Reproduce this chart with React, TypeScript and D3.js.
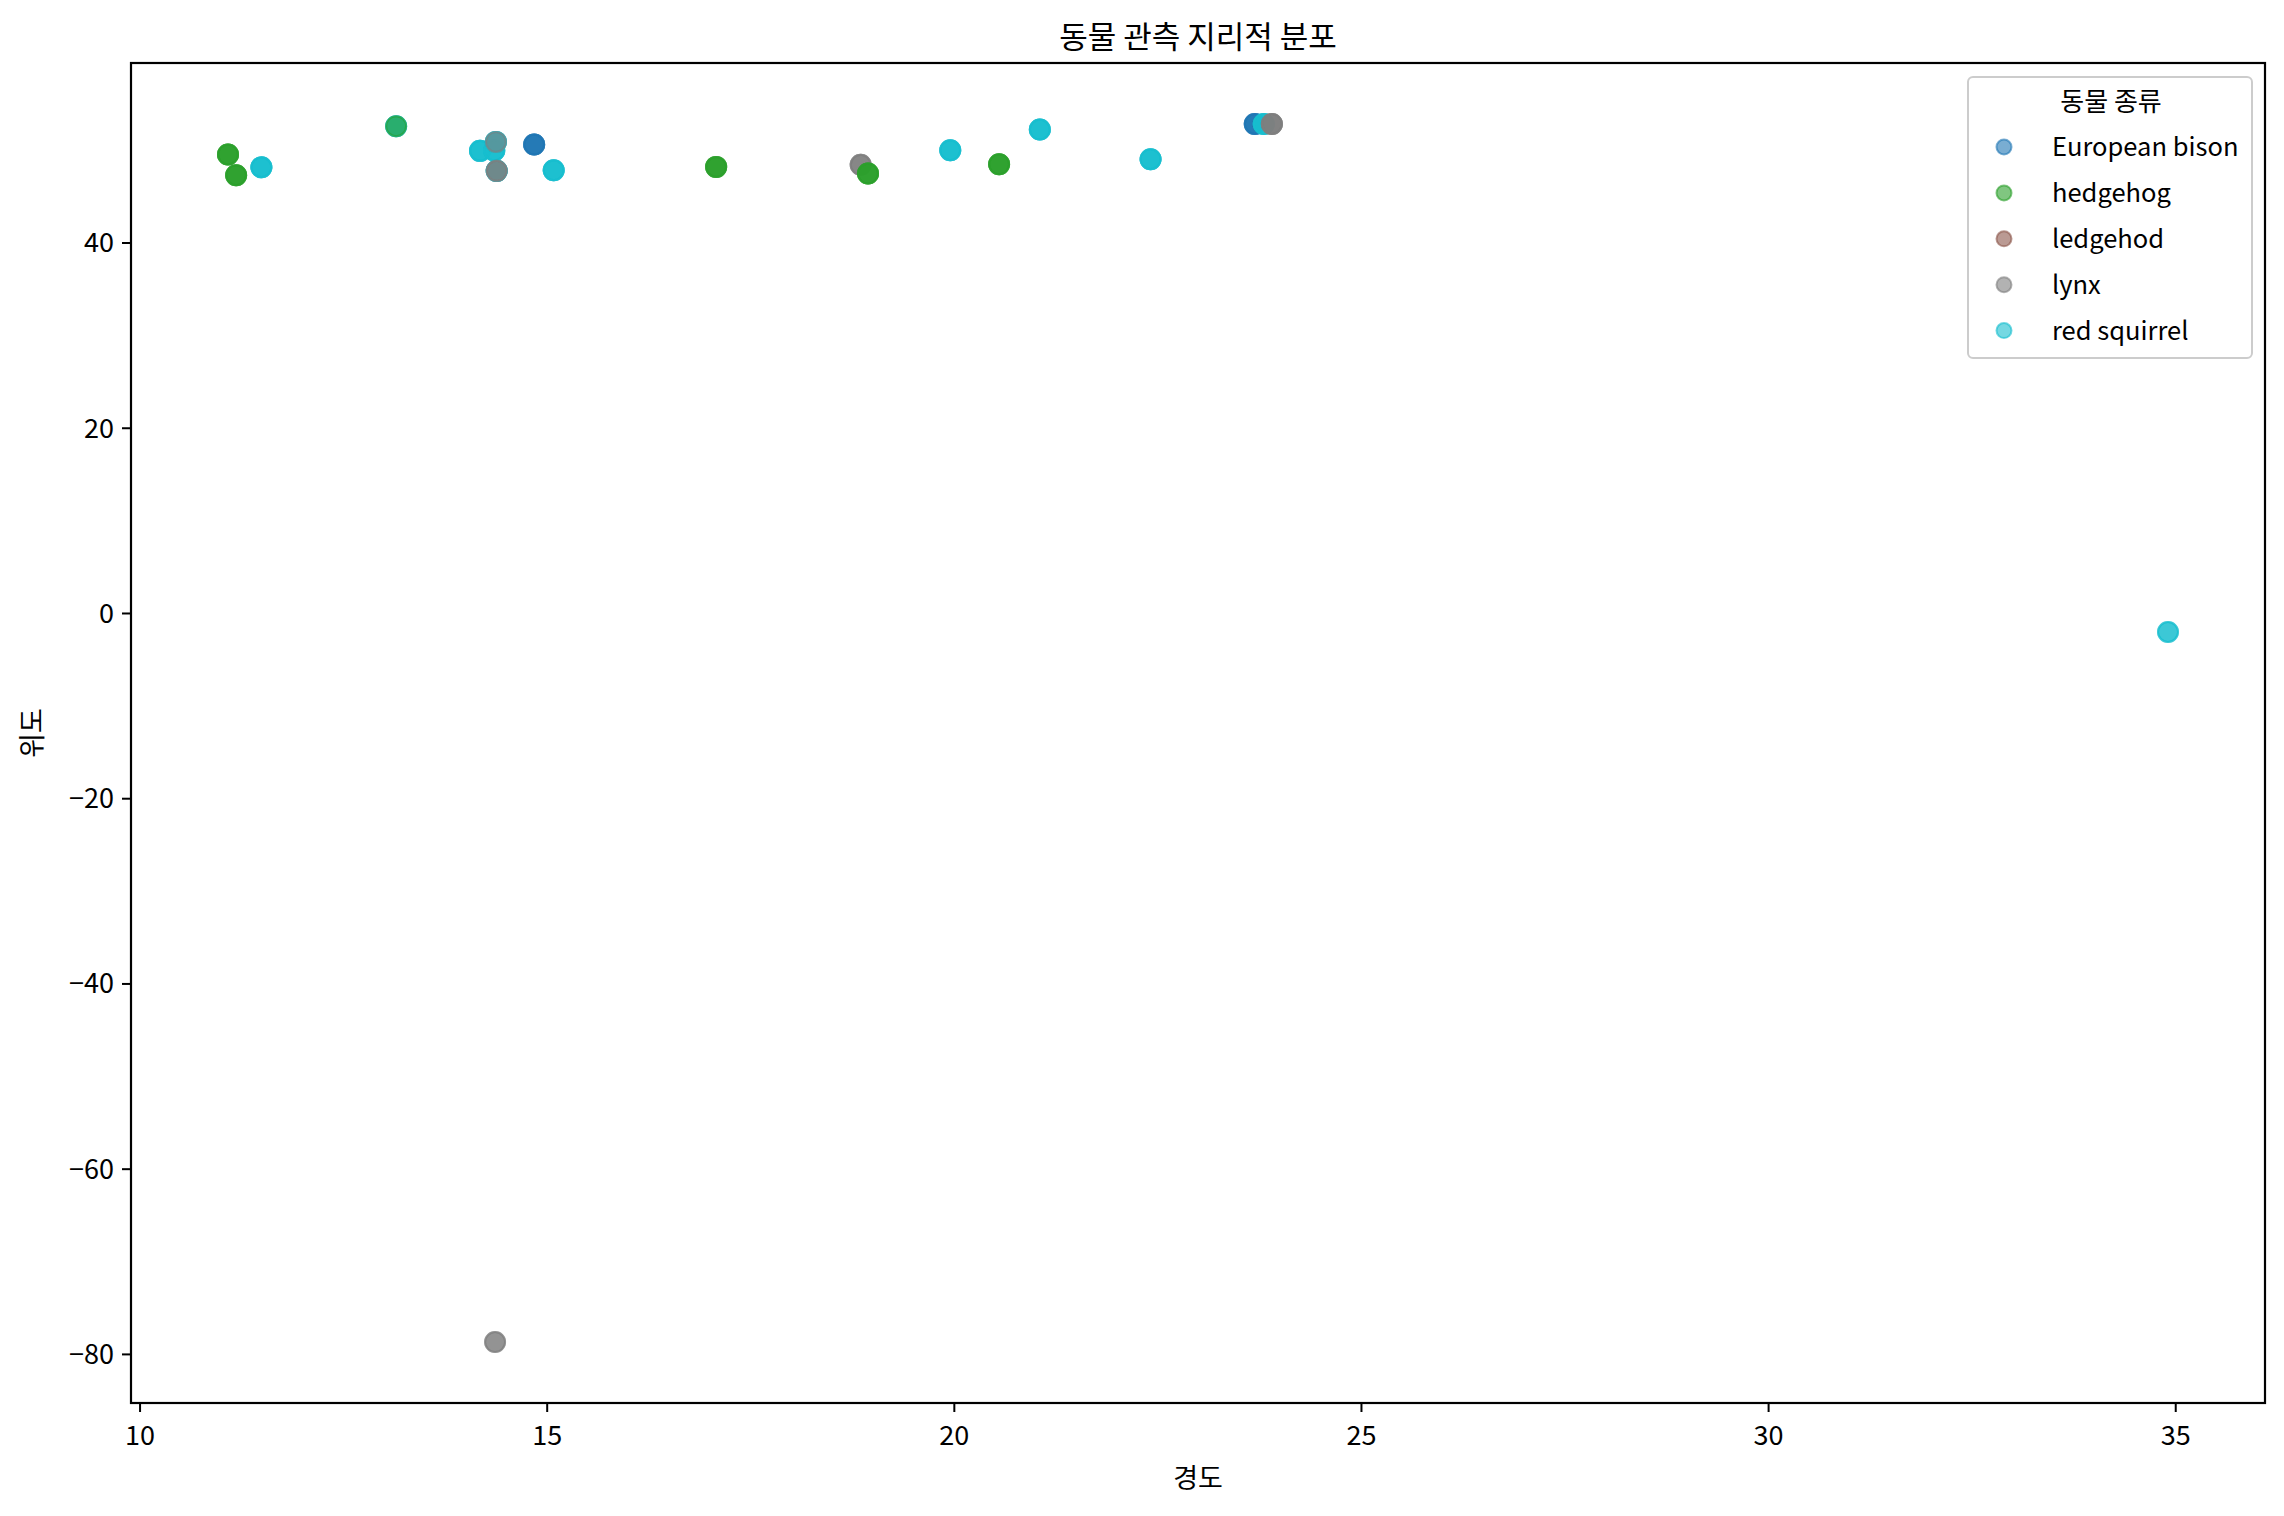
import React, { useMemo } from 'react';
import * as d3 from 'd3';

// species and their colours (tab10)
const species = ['European bison', 'hedgehog', 'ledgehod', 'lynx', 'red squirrel'];
const speciesColors = ['#1f77b4', '#2ca02c', '#8c564b', '#7f7f7f', '#17becf'];

// observations, in drawing order (count = number of stacked sightings at the spot)
const obsSpecies = [
  'hedgehog', 'hedgehog', 'red squirrel', 'red squirrel', 'hedgehog',
  'red squirrel', 'red squirrel', 'red squirrel', 'lynx', 'red squirrel',
  'lynx', 'European bison', 'red squirrel', 'hedgehog', 'lynx',
  'hedgehog', 'red squirrel', 'hedgehog', 'red squirrel', 'red squirrel',
  'European bison', 'red squirrel', 'lynx', 'lynx', 'red squirrel',
];
const obsLon = [
  11.08, 11.18, 11.49, 13.145, 13.145,
  14.175, 14.35, 14.37, 14.37, 14.38,
  14.38, 14.84, 15.08, 17.075, 18.85,
  18.94, 19.95, 20.55, 21.05, 22.41,
  23.69, 23.8, 23.9, 14.36, 34.905,
];
const obsLat = [
  49.56, 47.32, 48.18, 52.61, 52.61,
  49.95, 50.0, 50.92, 50.92, 47.79,
  47.79, 50.63, 47.86, 48.22, 48.44,
  47.5, 50.02, 48.5, 52.25, 49.05,
  52.86, 52.86, 52.86, -78.67, -2.0,
];
const obsCount = [
  4, 4, 4, 3, 1,
  4, 4, 4, 1, 4,
  2, 4, 4, 4, 3,
  4, 4, 4, 4, 4,
  4, 4, 4, 2, 2,
];

const xTicks = [10, 15, 20, 25, 30, 35];
const yTicks = [-80, -60, -40, -20, 0, 20, 40];

const title = '동물 관측 지리적 분포';
const xLabel = '경도';
const yLabel = '위도';
const legendTitle = '동물 종류';

const W = 2284;
const H = 1516;
const margin = { top: 63, right: 19, bottom: 113, left: 131 };
const FONT = '"Noto Sans CJK KR", "Noto Sans", sans-serif';

const App: React.FC = () => {
  const points = useMemo(() => {
    const out: { lon: number; lat: number; sp: string }[] = [];
    obsSpecies.forEach((sp, i) => {
      for (let k = 0; k < obsCount[i]; k++) out.push({ lon: obsLon[i], lat: obsLat[i], sp });
    });
    return out;
  }, []);

  const color = d3.scaleOrdinal<string, string>().domain(species).range(speciesColors);

  const [x0, x1] = d3.extent(obsLon) as [number, number];
  const [y0, y1] = d3.extent(obsLat) as [number, number];
  const px = (x1 - x0) * 0.05;
  const py = (y1 - y0) * 0.05;

  const x = d3.scaleLinear().domain([x0 - px, x1 + px]).range([margin.left, W - margin.right]);
  const y = d3.scaleLinear().domain([y0 - py, y1 + py]).range([H - margin.bottom, margin.top]);

  const left = margin.left;
  const right = W - margin.right;
  const top = margin.top;
  const bottom = H - margin.bottom;

  const fmt = (v: number) => (v < 0 ? '\u2212' + Math.abs(v) : String(v));

  // legend box
  const lg = { x: 1968, y: 77, w: 284, h: 281 };

  return (
    <div style={{ position: 'absolute', left: 0, top: 0, background: '#fff' }}>
      <svg width={W} height={H} style={{ display: 'block', fontFamily: FONT }}>
        <rect width={W} height={H} fill="#fff" />

        {/* points */}
        <g>
          {points.map((d, i) => (
            <circle
              key={i}
              cx={x(d.lon)}
              cy={y(d.lat)}
              r={10}
              fill={color(d.sp)}
              fillOpacity={0.6}
              stroke={color(d.sp)}
              strokeOpacity={0.6}
              strokeWidth={2}
            />
          ))}
        </g>

        {/* frame */}
        <rect x={left} y={top} width={right - left} height={bottom - top} fill="none" stroke="#000" strokeWidth={2.2} />

        {/* x axis */}
        <g>
          {xTicks.map(t => (
            <g key={t} transform={`translate(${x(t)},${bottom})`}>
              <line y1={0} y2={9} stroke="#000" strokeWidth={2} />
              <text y={42} textAnchor="middle" fontSize={27} fill="#000">{fmt(t)}</text>
            </g>
          ))}
        </g>

        {/* y axis */}
        <g>
          {yTicks.map(t => (
            <g key={t} transform={`translate(${left},${y(t)})`}>
              <line x1={0} x2={-9} stroke="#000" strokeWidth={2} />
              <text x={-17} dy="0.35em" textAnchor="end" fontSize={27} fill="#000">{fmt(t)}</text>
            </g>
          ))}
        </g>

        {/* labels */}
        <text x={(left + right) / 2} y={48} textAnchor="middle" fontSize={31} fill="#000">{title}</text>
        <text x={(left + right) / 2} y={1488} textAnchor="middle" fontSize={27} fill="#000">{xLabel}</text>
        <text
          transform={`translate(42,${(top + bottom) / 2}) rotate(-90)`}
          textAnchor="middle"
          fontSize={27}
          fill="#000"
        >
          {yLabel}
        </text>

        {/* legend */}
        <g>
          <rect x={lg.x} y={lg.y} width={lg.w} height={lg.h} rx={5} fill="#fff" fillOpacity={0.8} stroke="#cccccc" strokeWidth={2} />
          <text x={lg.x + lg.w / 2 + 1} y={111} textAnchor="middle" fontSize={26} fill="#000">{legendTitle}</text>
          {species.map((s, i) => {
            const cy = 147 + i * 45.9;
            return (
              <g key={s}>
                <circle cx={2004} cy={cy} r={7.5} fill={color(s)} fillOpacity={0.6} stroke={color(s)} strokeOpacity={0.6} strokeWidth={2} />
                <text x={2052} y={cy} dy="0.35em" fontSize={25.5} fill="#000">{s}</text>
              </g>
            );
          })}
        </g>
      </svg>
    </div>
  );
};

export default App;
